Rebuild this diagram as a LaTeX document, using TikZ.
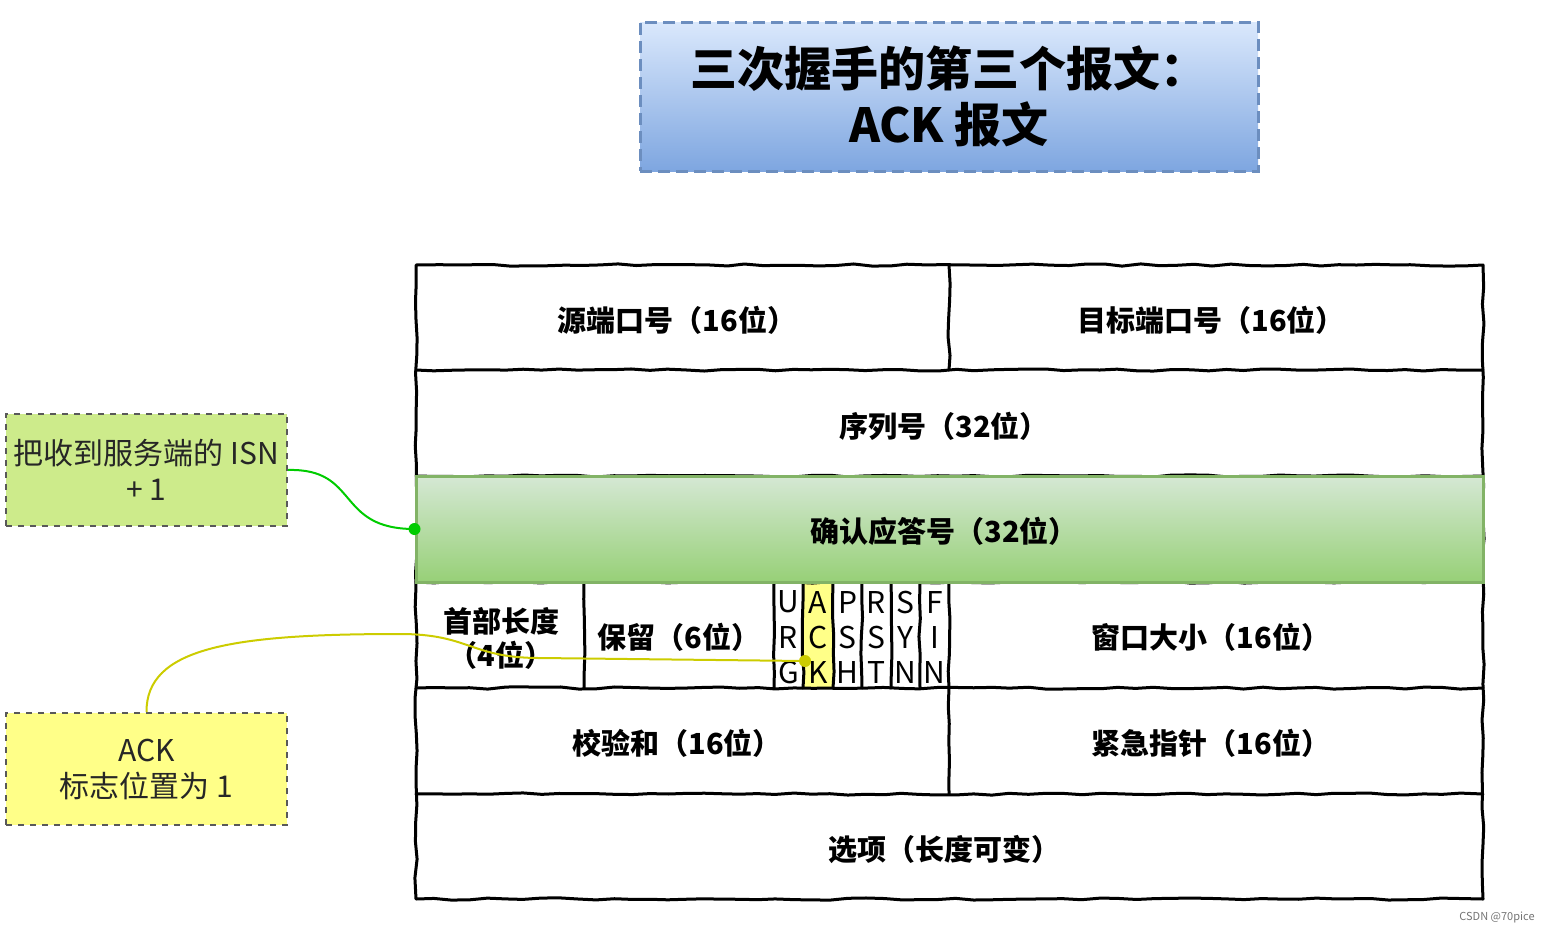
\documentclass[tikz,border=0pt]{standalone}
\usepackage{fontspec}
\setmainfont{Noto Sans CJK SC}
\usetikzlibrary{decorations.pathmorphing}
\definecolor{titletop}{HTML}{DAE8FC}
\definecolor{titlebot}{HTML}{7EA6E0}
\definecolor{titleline}{HTML}{6C8EBF}
\definecolor{greentop}{HTML}{D5E8D4}
\definecolor{greenbot}{HTML}{97D077}
\definecolor{greenline}{HTML}{82B366}
\definecolor{notegreen}{HTML}{CDEB8B}
\definecolor{noteyellow}{HTML}{FFFF88}
\definecolor{linkgreen}{HTML}{00CC00}
\definecolor{linkyellow}{HTML}{CCCC00}
\tikzset{
  sketch/.style={line width=1.5pt, line join=round, line cap=round,
    decorate, decoration={random steps, segment length=9pt, amplitude=0.55pt}},
  lbl/.style={font=\bfseries\fontsize{14.5}{17}\selectfont, inner sep=0pt, align=center},
  flag/.style={font=\fontsize{15}{15}\selectfont, inner sep=0pt},
  note/.style={draw=black!65, dashed, line width=0.8pt, minimum width=140.5pt,
    minimum height=56pt, align=center, font=\fontsize{15}{18}\selectfont, text=black!85},
  link/.style={line width=1pt},
}
\begin{document}
\begin{tikzpicture}[x=0.5pt,y=-0.5pt]
\pgfmathsetseed{7}
\useasboundingbox (0,0) rectangle (1552,932);
% title
\node[draw=titleline, dash pattern=on 6pt off 3pt, line width=1.5pt, top color=titletop, bottom color=titlebot,
  minimum width=309pt, minimum height=74.5pt, align=center,
  font=\bfseries\fontsize{23.5}{28}\selectfont] (title) at (949,96.5)
  {\raisebox{-1pt}{三次握手的第三个报文：}\\\raisebox{-1pt}{ACK 报文}};
% ACK flag cell fill
\fill[noteyellow] (803,582) rectangle (833,688);
% table grid
\draw[sketch] (416,265) rectangle (1483,899);
\foreach \yy in {370,476,582,688,794} \draw[sketch] (416,\yy) -- (1483,\yy);
\draw[sketch] (949,265) -- (949,370);
\draw[sketch] (949,688) -- (949,794);
\foreach \xx in {584,774,803,833,862,891,920,949} \draw[sketch] (\xx,582) -- (\xx,688);
% green row
\node[draw=greenline, line width=1.5pt, top color=greentop, bottom color=greenbot,
  minimum width=533.5pt, minimum height=53pt, inner sep=0pt] (ackno) at (949.5,529) {};
% labels
\node[lbl] (src) at (677,320) {源端口号（16位）};
\node[lbl] (dst) at (1211,320) {目标端口号（16位）};
\node[lbl] (seq) at (944,426) {序列号（32位）};
\node[lbl] (acklbl) at (944,531) {确认应答号（32位）};
\node[lbl] (hlen) at (501,638) {首部长度\\（4位）};
\node[lbl] (rsv) at (679,637) {保留（6位）};
\node[lbl] (win) at (1211,637) {窗口大小（16位）};
\node[lbl] (cks) at (677,743) {校验和（16位）};
\node[lbl] (urg) at (1211,743) {紧急指针（16位）};
\node[lbl] (opt) at (944,850) {选项（长度可变）};
% flags
\foreach \x/\a/\b/\c [count=\i] in {788.5/U/R/G, 818/A/C/K, 847.5/P/S/H, 876.5/R/S/T, 905.5/S/Y/N, 934.5/F/I/N}{
  \node[flag] (f\i a) at (\x,602) {\a};
  \node[flag] (f\i b) at (\x,637) {\b};
  \node[flag] (f\i c) at (\x,672) {\c};
}
% notes
\node[note, fill=notegreen] (isn) at (146.5,470) {把收到服务端的 ISN\\+ 1};
\node[note, fill=noteyellow] (acknote) at (146.5,769) {ACK\\标志位置为 1};
% connectors
\draw[link, linkgreen] (isn.east) .. controls (360,468) and (335,529) .. (ackno.west);
\fill[linkgreen] (ackno.west) circle (3pt);
\coordinate (ackdot) at (805,661);
\draw[link, linkyellow] (acknote.north) .. controls (146,648) and (230,634) .. (400,634)
  .. controls (470,634) and (470,658) .. (540,658) -- (ackdot);
\fill[linkyellow] (ackdot) circle (3pt);
% watermark
\node[font=\fontsize{5.5}{6}\selectfont, text=black!55, inner sep=0pt] (wm) at (1497,917) {CSDN @70pice};
\end{tikzpicture}
\end{document}
